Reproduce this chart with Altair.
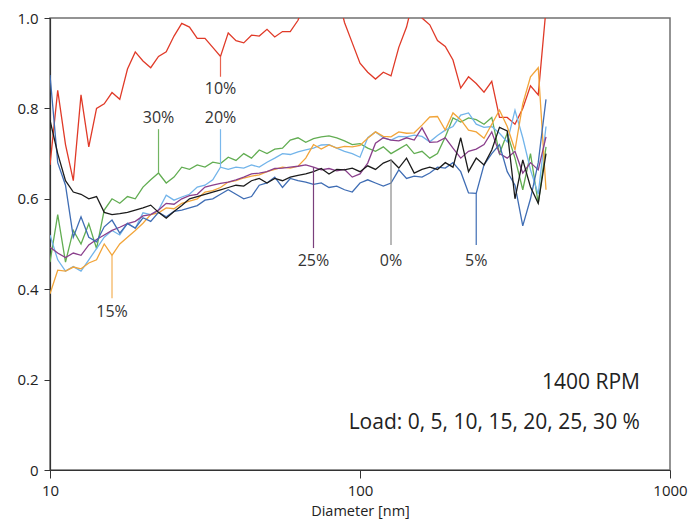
import altair as alt
import pandas as pd

# Particle diameter grid [nm] (40 channels per decade)
diameter = [10.00, 10.59, 11.22, 11.89, 12.59, 13.34, 14.13, 14.96, 15.85, 16.79,
            17.78, 18.84, 19.95, 21.13, 22.39, 23.71, 25.12, 26.61, 28.18, 29.85,
            31.62, 33.50, 35.48, 37.58, 39.81, 42.17, 44.67, 47.32, 50.12, 53.09,
            56.23, 59.57, 63.10, 66.83, 70.79, 74.99, 79.43, 84.14, 89.13, 94.41,
            100.0, 105.9, 112.2, 118.9, 125.9, 133.4, 141.3, 149.6, 158.5, 167.9,
            177.8, 188.4, 199.5, 211.3, 223.9, 237.1, 251.2, 266.1, 281.8, 298.5,
            316.2, 335.0, 354.8, 375.8, 398.1]

load_10 = [0.675, 0.84, 0.72, 0.64, 0.83, 0.715, 0.80, 0.81, 0.835, 0.82,
           0.887, 0.925, 0.905, 0.89, 0.915, 0.925, 0.96, 0.988, 0.98, 0.955,
           0.955, 0.935, 0.915, 0.967, 0.95, 0.945, 0.962, 0.96, 0.975, 0.958,
           0.97, 0.97, 0.995, 1.04, 1.08, 1.1, 1.1, 1.06, 0.99, 0.945,
           0.90, 0.88, 0.865, 0.88, 0.872, 0.935, 0.98, 1.05, 1.0, 0.985,
           0.95, 0.937, 0.907, 0.845, 0.87, 0.855, 0.836, 0.86, 0.78, 0.78,
           0.765, 0.80, 0.85, 0.83, 1.02]

load_30 = [0.46, 0.565, 0.46, 0.53, 0.50, 0.545, 0.49, 0.575, 0.60, 0.59,
           0.605, 0.60, 0.626, 0.642, 0.657, 0.635, 0.648, 0.67, 0.665, 0.675,
           0.67, 0.681, 0.678, 0.692, 0.685, 0.70, 0.69, 0.708, 0.70, 0.71,
           0.712, 0.73, 0.735, 0.725, 0.733, 0.737, 0.739, 0.735, 0.728, 0.72,
           0.722, 0.712, 0.705, 0.715, 0.70, 0.71, 0.72, 0.70, 0.705, 0.69,
           0.70, 0.737, 0.779, 0.77, 0.779, 0.775, 0.765, 0.78, 0.70, 0.745,
           0.69, 0.62, 0.70, 0.59, 0.715]

load_20 = [0.52, 0.465, 0.44, 0.45, 0.44, 0.465, 0.49, 0.515, 0.53, 0.52,
           0.546, 0.535, 0.569, 0.565, 0.575, 0.608, 0.597, 0.604, 0.61, 0.626,
           0.63, 0.642, 0.67, 0.665, 0.67, 0.668, 0.675, 0.67, 0.681, 0.69,
           0.70, 0.698, 0.704, 0.708, 0.712, 0.719, 0.72, 0.712, 0.705, 0.70,
           0.692, 0.735, 0.748, 0.735, 0.73, 0.738, 0.737, 0.741, 0.738, 0.726,
           0.74, 0.752, 0.76, 0.785, 0.79, 0.765, 0.758, 0.76, 0.745, 0.726,
           0.796, 0.735, 0.664, 0.61, 0.76]

load_15 = [0.39, 0.442, 0.44, 0.449, 0.445, 0.458, 0.465, 0.50, 0.475, 0.50,
           0.515, 0.53, 0.546, 0.565, 0.569, 0.58, 0.578, 0.59, 0.595, 0.60,
           0.615, 0.618, 0.625, 0.637, 0.64, 0.646, 0.65, 0.653, 0.66, 0.665,
           0.67, 0.668, 0.672, 0.69, 0.72, 0.71, 0.719, 0.712, 0.716, 0.715,
           0.718, 0.734, 0.748, 0.738, 0.737, 0.748, 0.745, 0.746, 0.763, 0.781,
           0.782, 0.752, 0.79, 0.775, 0.752, 0.748, 0.734, 0.765, 0.796, 0.76,
           0.708, 0.81, 0.87, 0.89, 0.62]

load_25 = [0.493, 0.48, 0.47, 0.48, 0.475, 0.498, 0.51, 0.52, 0.53, 0.537,
           0.545, 0.55, 0.562, 0.565, 0.575, 0.59, 0.588, 0.60, 0.607, 0.61,
           0.626, 0.63, 0.634, 0.637, 0.642, 0.648, 0.655, 0.657, 0.66, 0.667,
           0.668, 0.67, 0.672, 0.675, 0.67, 0.664, 0.667, 0.662, 0.665, 0.648,
           0.655, 0.679, 0.723, 0.735, 0.73, 0.728, 0.735, 0.73, 0.757, 0.725,
           0.726, 0.735, 0.712, 0.69, 0.705, 0.71, 0.72, 0.748, 0.70, 0.69,
           0.705, 0.657, 0.68, 0.664, 0.737]

load_5 = [0.874, 0.68, 0.63, 0.515, 0.56, 0.515, 0.505, 0.538, 0.553, 0.524,
          0.545, 0.535, 0.558, 0.55, 0.57, 0.56, 0.572, 0.575, 0.58, 0.585,
          0.597, 0.60, 0.61, 0.62, 0.61, 0.60, 0.605, 0.63, 0.635, 0.648,
          0.625, 0.645, 0.64, 0.637, 0.632, 0.635, 0.625, 0.628, 0.62, 0.615,
          0.635, 0.642, 0.635, 0.628, 0.635, 0.664, 0.645, 0.65, 0.648, 0.657,
          0.67, 0.668, 0.68, 0.66, 0.613, 0.612, 0.675, 0.70, 0.72, 0.66,
          0.63, 0.54, 0.60, 0.68, 0.82]

load_0 = [0.774, 0.70, 0.64, 0.615, 0.61, 0.60, 0.605, 0.57, 0.565, 0.567,
          0.57, 0.575, 0.58, 0.586, 0.57, 0.557, 0.572, 0.585, 0.60, 0.605,
          0.61, 0.615, 0.62, 0.625, 0.63, 0.628, 0.64, 0.645, 0.635, 0.645,
          0.64, 0.648, 0.652, 0.655, 0.66, 0.667, 0.655, 0.665, 0.664, 0.668,
          0.66, 0.673, 0.665, 0.679, 0.686, 0.668, 0.69, 0.657, 0.665, 0.67,
          0.665, 0.68, 0.67, 0.735, 0.66, 0.69, 0.675, 0.708, 0.758, 0.75,
          0.60, 0.686, 0.626, 0.59, 0.70]

# name, values, colour — drawn back to front
series = [
    ("10%", load_10, "#e03a28"),
    ("30%", load_30, "#62ad52"),
    ("20%", load_20, "#72b4ea"),
    ("15%", load_15, "#f2a53a"),
    ("25%", load_25, "#8a3f8c"),
    ("5%", load_5, "#3f6db4"),
    ("0%", load_0, "#1c1c1c"),
]

# Callout labels: grid index where the leader touches the curve,
# lower end of the leader and the label position (fraction units)
label_index = {"10%": 22, "30%": 14, "20%": 22, "15%": 8, "25%": 34, "0%": 44, "5%": 55}
label_end = {"10%": 0.87, "30%": 0.754, "20%": 0.754, "15%": 0.38, "25%": 0.491, "0%": 0.498, "5%": 0.498}
label_y = {"10%": 0.843, "30%": 0.779, "20%": 0.779, "15%": 0.35, "25%": 0.462, "0%": 0.462, "5%": 0.462}
leader_color = {"10%": "#e8624f", "30%": "#72b562", "20%": "#7ab8ec", "15%": "#f4b055",
                "25%": "#7a3f7c", "0%": "#8a8a8a", "5%": "#3f6db4"}

FONT = "Open Sans"

xscale = alt.Scale(type="log", domain=[10, 1000], nice=False)
yscale = alt.Scale(domain=[0, 1], nice=False)
xaxis = alt.Axis(values=[10, 100, 1000], format="d", title="Diameter [nm]",
                 grid=False, tickSize=8, labelPadding=5, titlePadding=6,
                 labelFlush=False)
yaxis = alt.Axis(values=[0, 0.2, 0.4, 0.6, 0.8, 1.0], title=None, grid=False,
                 tickSize=6, labelPadding=6,
                 labelExpr="datum.value == 0 ? '0' : format(datum.value, '.1f')")

layers = []
for name, vals, color in series:
    df = pd.DataFrame({"d": diameter, "v": vals})
    layers.append(
        alt.Chart(df).mark_line(color=color, strokeWidth=1.3, clip=True).encode(
            x=alt.X("d:Q", scale=xscale, axis=xaxis),
            y=alt.Y("v:Q", scale=yscale, axis=yaxis),
        )
    )

lead_rows = []
for name, vals, color in series:
    i = label_index[name]
    lead_rows.append({"d": diameter[i], "v": vals[i], "v2": label_end[name],
                      "ty": label_y[name], "label": name, "c": leader_color[name]})
leads = pd.DataFrame(lead_rows)

leader_rules = alt.Chart(leads).mark_rule(strokeWidth=1.2).encode(
    x=alt.X("d:Q", scale=xscale),
    y=alt.Y("v:Q", scale=yscale),
    y2="v2:Q",
    color=alt.Color("c:N", scale=None),
)

leader_text = alt.Chart(leads).mark_text(
    font=FONT, fontSize=16, color="#333333", align="center", baseline="middle"
).encode(
    x=alt.X("d:Q", scale=xscale),
    y=alt.Y("ty:Q", scale=yscale),
    text="label:N",
)

notes = pd.DataFrame({
    "d": [800, 800],
    "v": [0.192, 0.104],
    "t": ["1400 RPM", "Load: 0, 5, 10, 15, 20, 25, 30 %"],
})
note_text = alt.Chart(notes).mark_text(
    font=FONT, fontSize=21, color="#222222", align="right", baseline="middle"
).encode(
    x=alt.X("d:Q", scale=xscale),
    y=alt.Y("v:Q", scale=yscale),
    text="t:N",
)

chart = alt.layer(*layers, leader_rules, leader_text, note_text).properties(
    width=620,
    height=452,
    padding={"left": 50, "top": 18, "right": 21, "bottom": 49},
    autosize=alt.AutoSizeParams(type="none"),
    background="white",
).configure_view(
    stroke="#707070", strokeWidth=1.5
).configure_axis(
    domainColor="#333333", domainWidth=1.2, tickColor="#333333",
    labelFont=FONT, labelFontSize=15, labelColor="#222222",
    titleFont=FONT, titleFontSize=14.5, titleFontWeight="normal", titleColor="#222222",
)

chart.save("out.html", embed_options={"renderer": "svg", "actions": False})
